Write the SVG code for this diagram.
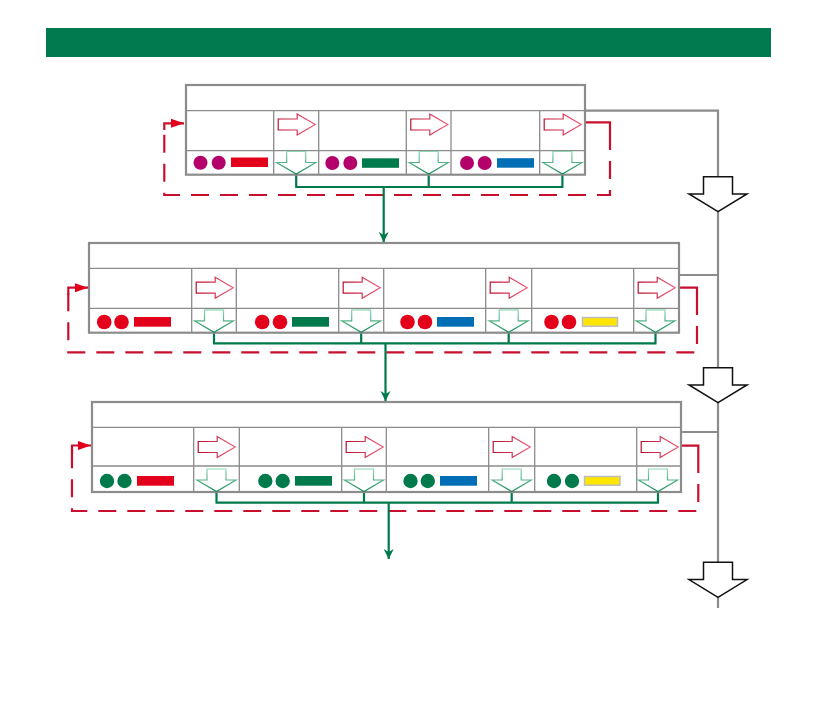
<svg xmlns="http://www.w3.org/2000/svg" width="839" height="709" viewBox="0 0 839 709">
<style>
.frame{fill:#fff;stroke:#8c8c8c;stroke-width:2.2}
.grid{stroke:#8c8c8c;stroke-width:1.3;fill:none}
.mag{fill:#b4006b}
.red{fill:#e3001b}
.grn{fill:#007a4a}
.blu{fill:#006eb5}
.yel{fill:#ffe500;stroke:#bdbdbd;stroke-width:1.5}
.rarr{fill:#fff;stroke:url(#gr);stroke-width:1.2}
.darr{fill:#fff;stroke:url(#gg);stroke-width:1.2}
.gline{fill:none;stroke:#007a4a;stroke-width:2.2}
.rdash{fill:none;stroke:#c8102e;stroke-width:2.2;stroke-dasharray:18 11}
.rsolid{fill:none;stroke:#c8102e;stroke-width:2.2}
.gray{fill:none;stroke:#8c8c8c;stroke-width:2.2}
.bigarr{fill:#fff;stroke:#111;stroke-width:1.5}
</style>
<defs>
<linearGradient id="gr" x1="0" y1="0" x2="1" y2="0">
<stop offset="0" stop-color="#b8102e"/><stop offset="1" stop-color="#ef5a7a"/>
</linearGradient>
<linearGradient id="gg" x1="0" y1="0" x2="0" y2="1">
<stop offset="0" stop-color="#8fd8b4"/><stop offset="1" stop-color="#1a8a58"/>
</linearGradient>
<path id="ra" class="rarr" d="M4.5,-5.5 H23.5 V-10.5 L41.5,0 L23.5,10.5 V5.5 H4.5 Z"/>
<path id="da" class="darr" d="M-9.5,-22.5 H9.5 V-11.5 H19.5 L0,0 L-19.5,-11.5 H-9.5 Z"/>
<path id="ba" class="bigarr" d="M-14.5,0 H14.5 V17.3 H29 L0,35 L-29,17.3 H-14.5 Z"/>
<marker id="mg" viewBox="0 0 10 13" refX="10" refY="6.5" markerWidth="10" markerHeight="13" markerUnits="userSpaceOnUse" orient="auto">
<path d="M0,1.5 L10,6.5 L0,11.5 L3,6.5 Z" fill="#007a4a" transform="rotate(0)"/>
</marker>
<marker id="mr" viewBox="0 0 13 10" refX="13" refY="5" markerWidth="13" markerHeight="10" markerUnits="userSpaceOnUse" orient="auto">
<path d="M0,0.5 L13,5 L0,9.5 Z" fill="#e3001b"/>
</marker>
</defs>

<rect id="title-bar" x="46" y="28" width="725" height="29" fill="#007a4e"/>

<g id="connectors">
<!-- gray output line -->
<path class="gray" d="M585,110.7 H718 V176.7"/>
<path class="gray" d="M718,211.7 V367.7"/>
<path class="gray" d="M718,402.3 V562.3"/>
<path class="gray" d="M718,596.7 V608"/>
<path class="gray" d="M679,275 H718"/>
<path class="gray" d="M681,432 H718"/>
<!-- red feedback loops -->
<path class="rsolid" d="M586,122.3 H610 V132"/>
<path class="rdash" d="M610,132 V195 H164.3 V123.3"/>
<path class="rsolid" d="M164.3,130 V123.3 H184" marker-end="url(#mr)"/>
<path class="rsolid" d="M679,287.7 H697 V297"/>
<path class="rdash" d="M697,297 V352.3 H68.3 V287.7"/>
<path class="rsolid" d="M68.3,295 V287.7 H88" marker-end="url(#mr)"/>
<path class="rsolid" d="M681,445.7 H698.3 V455"/>
<path class="rdash" d="M698.3,455 V511 H72 V445.5"/>
<path class="rsolid" d="M72,453 V445.5 H91" marker-end="url(#mr)"/>
<!-- green collectors -->
<path class="gline" d="M296.2,174.5 V187 M428.7,174.5 V187 M562.4,174.5 V187 M295.2,187 H563.4"/>
<path class="gline" d="M383.7,187 V242" marker-end="url(#mg)"/>
<path class="gline" d="M214,332.5 V343.3 M361.2,332.5 V343.3 M508.7,332.5 V343.3 M655.5,332.5 V343.3 M213,343.3 H656.5"/>
<path class="gline" d="M385.5,343.3 V401" marker-end="url(#mg)"/>
<path class="gline" d="M216.5,491.5 V502.7 M364,491.5 V502.7 M511.7,491.5 V502.7 M658,491.5 V502.7 M215.5,502.7 H659"/>
<path class="gline" d="M388.7,502.7 V559" marker-end="url(#mg)"/>
</g>

<g id="output-arrows">
<use href="#ba" x="718" y="176.7"/>
<use href="#ba" x="718" y="367.7"/>
<use href="#ba" x="718" y="562.3"/>
</g>

<g id="stage-1">
<rect class="frame" x="186" y="85" width="399" height="89.7"/>
<path class="grid" d="M186,110.7 H585 M186,150.7 H585 M273.7,110.7 V174.7 M318.7,110.7 V174.7 M406.3,110.7 V174.7 M451,110.7 V174.7 M539.7,110.7 V174.7"/>
<circle class="mag" cx="200.5" cy="162.7" r="7"/><circle class="mag" cx="218.7" cy="162.7" r="7"/><rect class="red" x="231" y="157.5" width="37" height="9.5"/>
<circle class="mag" cx="332.3" cy="163" r="7"/><circle class="mag" cx="350.3" cy="163" r="7"/><rect class="grn" x="362" y="158.3" width="37" height="9.5"/>
<circle class="mag" cx="467" cy="163" r="7"/><circle class="mag" cx="484.7" cy="163" r="7"/><rect class="blu" x="497" y="158.2" width="37" height="9.5"/>
<use href="#ra" x="273.7" y="124.5"/><use href="#ra" x="406.3" y="124.5"/><use href="#ra" x="539.7" y="124.5"/>
<use href="#da" x="296.2" y="174"/><use href="#da" x="428.7" y="174"/><use href="#da" x="562.4" y="174"/>
</g>

<g id="stage-2">
<rect class="frame" x="89" y="243" width="590" height="89.7"/>
<path class="grid" d="M89,268.3 H679 M89,308.3 H679 M191.7,268.3 V332.7 M236.3,268.3 V332.7 M338.7,268.3 V332.7 M383.7,268.3 V332.7 M485.7,268.3 V332.7 M531.7,268.3 V332.7 M633.7,268.3 V332.7"/>
<circle class="red" cx="104.2" cy="322" r="7.3"/><circle class="red" cx="121.5" cy="322" r="7.3"/><rect class="red" x="134" y="317" width="37" height="9.7"/>
<circle class="red" cx="262.2" cy="322" r="7.3"/><circle class="red" cx="280" cy="322" r="7.3"/><rect class="grn" x="292" y="317" width="37" height="9.7"/>
<circle class="red" cx="407.5" cy="322" r="7.3"/><circle class="red" cx="425" cy="322" r="7.3"/><rect class="blu" x="437" y="317" width="37" height="9.7"/>
<circle class="red" cx="551.5" cy="322" r="7.3"/><circle class="red" cx="569" cy="322" r="7.3"/><rect class="yel" x="582.5" y="317.5" width="35" height="8.7"/>
<use href="#ra" x="191.7" y="287.7"/><use href="#ra" x="338.7" y="287.7"/><use href="#ra" x="485.7" y="287.7"/><use href="#ra" x="633.7" y="287.7"/>
<use href="#da" x="214" y="332.3"/><use href="#da" x="361.2" y="332.3"/><use href="#da" x="508.7" y="332.3"/><use href="#da" x="655.5" y="332.3"/>
</g>

<g id="stage-3">
<rect class="frame" x="92" y="402" width="589" height="90"/>
<path class="grid" d="M92,427.3 H681 M92,466 H681 M193.7,427.3 V492 M239.3,427.3 V492 M341.7,427.3 V492 M386.3,427.3 V492 M488.7,427.3 V492 M534.7,427.3 V492 M636.7,427.3 V492"/>
<circle class="grn" cx="107" cy="481" r="7.2"/><circle class="grn" cx="124.5" cy="481" r="7.2"/><rect class="red" x="137" y="476" width="37" height="9.7"/>
<circle class="grn" cx="265.3" cy="481" r="7.2"/><circle class="grn" cx="282.7" cy="481" r="7.2"/><rect class="grn" x="295" y="476" width="37" height="9.7"/>
<circle class="grn" cx="410.5" cy="481" r="7.2"/><circle class="grn" cx="427.8" cy="481" r="7.2"/><rect class="blu" x="440" y="476" width="37" height="9.7"/>
<circle class="grn" cx="554" cy="481" r="7.2"/><circle class="grn" cx="572" cy="481" r="7.2"/><rect class="yel" x="584.5" y="476.5" width="35.5" height="8.7"/>
<use href="#ra" x="193.7" y="447"/><use href="#ra" x="341.7" y="447"/><use href="#ra" x="488.7" y="447"/><use href="#ra" x="636.7" y="447"/>
<use href="#da" x="216.5" y="491.5"/><use href="#da" x="364" y="491.5"/><use href="#da" x="511.7" y="491.5"/><use href="#da" x="658" y="491.5"/>
</g>
</svg>
